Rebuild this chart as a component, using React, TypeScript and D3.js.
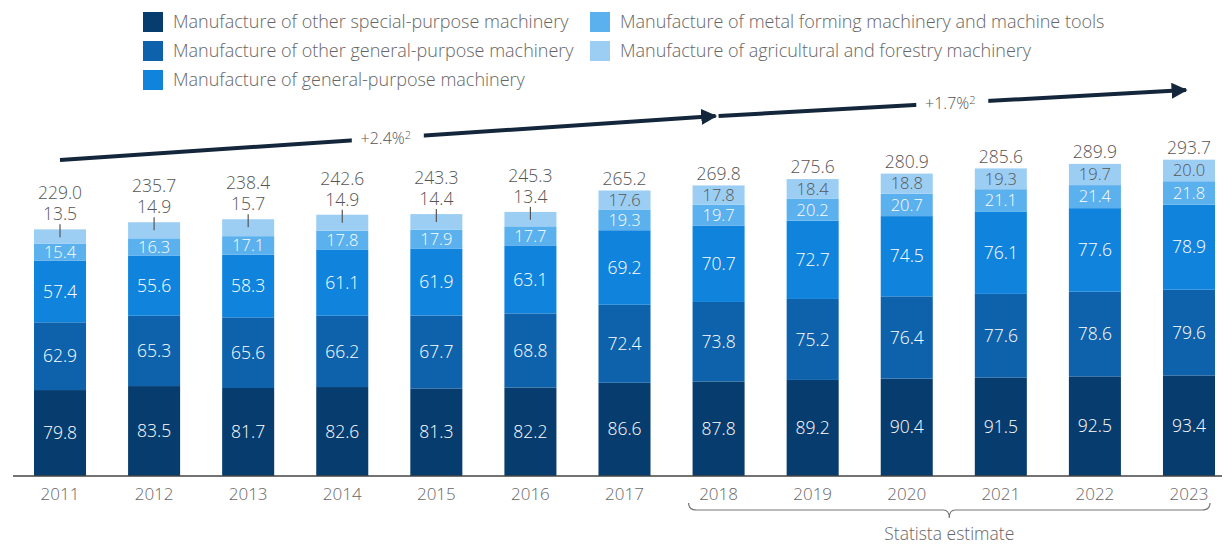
import { useEffect } from "react";
import { scaleBand, scaleLinear, stack } from "d3";

const years = ["2011", "2012", "2013", "2014", "2015", "2016", "2017", "2018", "2019", "2020", "2021", "2022", "2023"];
const specialPurpose = [79.8, 83.5, 81.7, 82.6, 81.3, 82.2, 86.6, 87.8, 89.2, 90.4, 91.5, 92.5, 93.4];
const otherGeneral = [62.9, 65.3, 65.6, 66.2, 67.7, 68.8, 72.4, 73.8, 75.2, 76.4, 77.6, 78.6, 79.6];
const generalPurpose = [57.4, 55.6, 58.3, 61.1, 61.9, 63.1, 69.2, 70.7, 72.7, 74.5, 76.1, 77.6, 78.9];
const metalForming = [15.4, 16.3, 17.1, 17.8, 17.9, 17.7, 19.3, 19.7, 20.2, 20.7, 21.1, 21.4, 21.8];
const agricultural = [13.5, 14.9, 15.7, 14.9, 14.4, 13.4, 17.6, 17.8, 18.4, 18.8, 19.3, 19.7, 20.0];
const totals = [229.0, 235.7, 238.4, 242.6, 243.3, 245.3, 265.2, 269.8, 275.6, 280.9, 285.6, 289.9, 293.7];

const seriesNames = [
  "Manufacture of other special-purpose machinery",
  "Manufacture of other general-purpose machinery",
  "Manufacture of general-purpose machinery",
  "Manufacture of metal forming machinery and machine tools",
  "Manufacture of agricultural and forestry machinery",
];
const colors = ["#073c6e", "#0d62ab", "#1083dd", "#5bb0ee", "#9ccef4"];
const labelColors = ["#ffffff", "#ffffff", "#ffffff", "#ffffff", "#555555"];

const estimateYears = ["2018", "2023"];
const cagrs = [
  { label: "+2.4%", from: "2011", to: "2018", y0: 160, y1: 116 },
  { label: "+1.7%", from: "2018", to: "2023", y0: 116, y1: 90 },
];

const FONT = "'Open Sans', 'Noto Sans', sans-serif";
const baseline = 476;

export default function App() {
  useEffect(() => {
    document.body.style.margin = "0";
  }, []);

  const rows = years.map((year, i) => ({
    year,
    s0: specialPurpose[i],
    s1: otherGeneral[i],
    s2: generalPurpose[i],
    s3: metalForming[i],
    s4: agricultural[i],
  }));
  const keys = ["s0", "s1", "s2", "s3", "s4"];
  const layers = stack<any>().keys(keys)(rows);

  const x = scaleBand<string>().domain(years).range([34, 1215]).paddingInner(0.447).paddingOuter(0);
  const y = scaleLinear().domain([0, 300]).range([baseline, baseline - 300 * 1.077]);
  const bw = x.bandwidth();
  const cx = (yr: string) => (x(yr) ?? 0) + bw / 2;

  // legend: 3 rows, column-major
  const legend = seriesNames.map((name, i) => ({
    name,
    color: colors[i],
    lx: i < 3 ? 143 : 590,
    ly: [22, 51, 80][i % 3],
  }));

  const braceL = cx(estimateYears[0]) - 30;
  const braceR = cx(estimateYears[1]) + 21;
  const braceM = (braceL + braceR) / 2;

  return (
    <svg width={1232} height={546} style={{ display: "block", fontFamily: FONT, fontWeight: 300 }}>
      <defs>
        <marker id="head" viewBox="0 0 10 10" refX="9" refY="5" markerWidth="4" markerHeight="4" orient="auto">
          <path d="M0,0 L10,5 L0,10 z" fill="#14263b" />
        </marker>
      </defs>

      {legend.map((d) => (
        <g key={d.name}>
          <rect x={d.lx} y={d.ly - 10} width={20} height={20} fill={d.color} />
          <text x={d.lx + 30} y={d.ly} dy="0.35em" fontSize={18} fill="#666">
            {d.name}
          </text>
        </g>
      ))}

      {cagrs.map((c) => {
        const x0 = cx(c.from);
        const x1 = cx(c.to) - 3;
        const mx = (x0 + x1) / 2;
        const my = c.y0 + ((mx - x0) / (x1 - x0)) * (c.y1 - c.y0);
        return (
          <g key={c.label}>
            <line x1={x0} y1={c.y0} x2={x1} y2={c.y1} stroke="#14263b" strokeWidth={4} markerEnd="url(#head)" />
            <rect x={mx - 36} y={my - 12} width={72} height={24} fill="#fff" />
            <text x={mx - 2} y={my} dy="0.35em" textAnchor="middle" fontSize={16} fill="#555">
              {c.label}
              <tspan fontSize={11} dy="-0.45em">2</tspan>
            </text>
          </g>
        );
      })}

      {layers.map((layer, li) => (
        <g key={layer.key} fill={colors[li]}>
          {layer.map((d, i) => (
            <rect key={years[i]} x={x(years[i])} y={y(d[1])} width={bw} height={y(d[0]) - y(d[1])} />
          ))}
        </g>
      ))}

      {layers.map((layer, li) =>
        layer.map((d, i) => {
          const v = d[1] - d[0];
          const top = y(totals[i]);
          if (li === 4 && v < 17) {
            return (
              <g key={`l${li}-${i}`}>
                <text x={cx(years[i])} y={top - 15} dy="0.35em" textAnchor="middle" fontSize={17.5} fill="#555">
                  {v.toFixed(1)}
                </text>
                <line x1={cx(years[i])} x2={cx(years[i])} y1={top - 5} y2={top + 8} stroke="#555" strokeWidth={1.2} />
              </g>
            );
          }
          return (
            <text
              key={`l${li}-${i}`}
              x={cx(years[i])}
              y={(y(d[0]) + y(d[1])) / 2}
              dy="0.35em"
              textAnchor="middle"
              fontSize={li >= 3 ? 16.5 : 17.5}
              fill={labelColors[li]}
            >
              {v.toFixed(1)}
            </text>
          );
        })
      )}

      {totals.map((t, i) => (
        <text
          key={`t${i}`}
          x={cx(years[i])}
          y={y(t) - (agricultural[i] < 17 ? 36 : 12)}
          dy="0.35em"
          textAnchor="middle"
          fontSize={17.5}
          fill="#555"
        >
          {t.toFixed(1)}
        </text>
      ))}

      <line x1={13} x2={1222} y1={baseline} y2={baseline} stroke="#444" strokeWidth={1.5} />
      {years.map((yr) => (
        <text key={yr} x={cx(yr)} y={494} dy="0.35em" textAnchor="middle" fontSize={17} fill="#666">
          {yr}
        </text>
      ))}

      <path
        d={`M${braceL},503 Q${braceL},510 ${braceL + 8},510 L${braceM - 6},510 Q${braceM},510 ${braceM},518 Q${braceM},510 ${braceM + 6},510 L${braceR - 8},510 Q${braceR},510 ${braceR},503`}
        fill="none"
        stroke="#777"
        strokeWidth={1.2}
      />
      <text x={braceM} y={534} dy="0.35em" textAnchor="middle" fontSize={17.5} fill="#666">
        Statista estimate
      </text>
    </svg>
  );
}
